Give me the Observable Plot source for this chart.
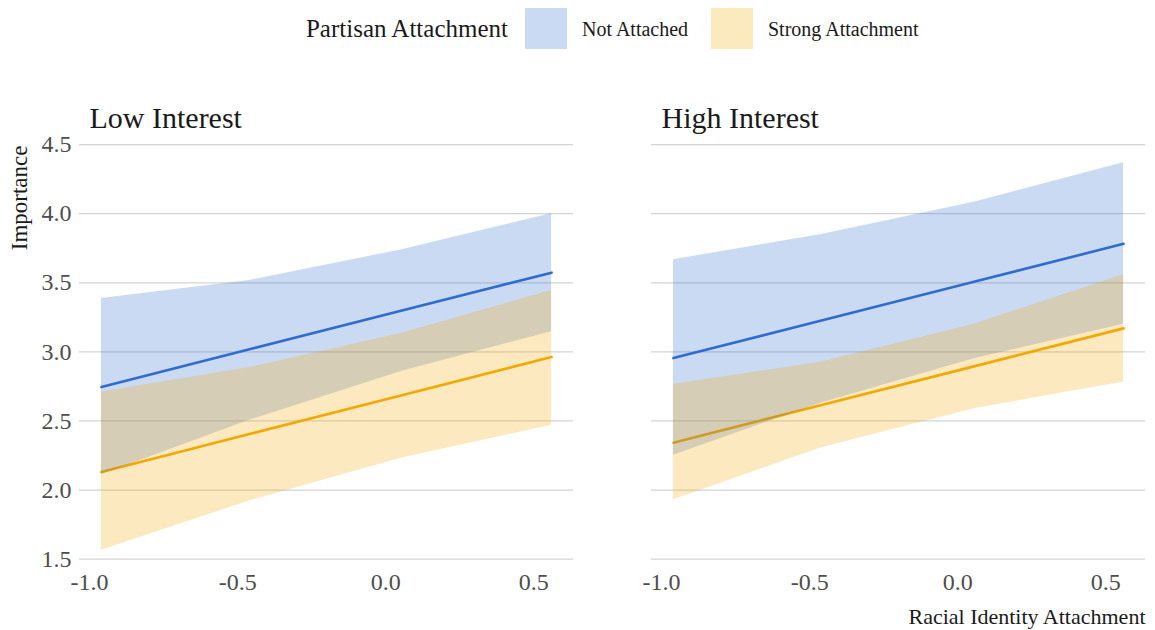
<!DOCTYPE html>
<html>
<head>
<meta charset="utf-8">
<script src="https://cdn.jsdelivr.net/npm/d3@7"></script>
<script src="https://cdn.jsdelivr.net/npm/@observablehq/plot@0.6"></script>
<style>
  html, body { margin: 0; padding: 0; background: #fff; }
  body { width: 1155px; height: 630px; overflow: hidden; font-family: "Liberation Serif", serif; color: #1a1a1a; }
  #legend { position: relative; height: 58px; width: 1155px; }
  #legend .t { position: absolute; top: 29px; transform: translateY(-50%); white-space: nowrap; }
  #legend .sw { position: absolute; top: 8px; width: 42px; height: 41px; }
</style>
</head>
<body>
<div id="legend"></div>
<div id="chart"></div>
<script>
// ---- data ----
const panels = ["Low Interest", "High Interest"];
const groups = ["Not Attached", "Strong Attachment"];
const groupColors = ["#2f6bd0", "#f2a900"];
const xValues = [-0.96, -0.46, 0.055, 0.56];

// Low Interest
const lowNotFit = [2.746, 3.019, 3.300, 3.573];
const lowNotLo  = [2.110, 2.505, 2.859, 3.146];
const lowNotHi  = [3.387, 3.517, 3.739, 4.000];
const lowStrFit = [2.131, 2.405, 2.686, 2.963];
const lowStrLo  = [1.565, 1.921, 2.232, 2.469];
const lowStrHi  = [2.710, 2.886, 3.134, 3.445];
// High Interest
const highNotFit = [2.955, 3.227, 3.507, 3.782];
const highNotLo  = [2.252, 2.630, 2.950, 3.200];
const highNotHi  = [3.667, 3.850, 4.083, 4.368];
const highStrFit = [2.343, 2.615, 2.895, 3.170];
const highStrLo  = [1.930, 2.307, 2.589, 2.782];
const highStrHi  = [2.765, 2.926, 3.199, 3.558];

const xTicks = [-1.0, -0.5, 0.0, 0.5];
const yTicks = [1.5, 2.0, 2.5, 3.0, 3.5, 4.0, 4.5];
const xTitle = "Racial Identity Attachment";
const yTitle = "Importance";
const legendTitle = "Partisan Attachment";

// ---- build table ----
const series = [
  [panels[0], groups[0], lowNotFit, lowNotLo, lowNotHi],
  [panels[0], groups[1], lowStrFit, lowStrLo, lowStrHi],
  [panels[1], groups[0], highNotFit, highNotLo, highNotHi],
  [panels[1], groups[1], highStrFit, highStrLo, highStrHi]
];
const rows = [];
for (const [panel, group, fit, lo, hi] of series) {
  xValues.forEach((x, i) => rows.push({panel, group, x, fit: fit[i], lo: lo[i], hi: hi[i]}));
}

// ---- legend ----
const legend = document.getElementById("legend");
function addEl(cls, styles, text) {
  const el = document.createElement("div");
  el.className = cls;
  Object.assign(el.style, styles);
  if (text) el.textContent = text;
  legend.appendChild(el);
}
addEl("t", {right: (1155 - 508) + "px", fontSize: "25px"}, legendTitle);
const blend = (hex) => { const c = d3.rgb(hex); const a = 0.25; return d3.rgb(255 - a*(255-c.r), 255 - a*(255-c.g), 255 - a*(255-c.b)).formatHex(); };
addEl("sw", {left: "525px", background: blend(groupColors[0])});
addEl("t", {left: "582px", fontSize: "20px"}, groups[0]);
addEl("sw", {left: "711px", background: blend(groupColors[1])});
addEl("t", {left: "768px", fontSize: "20px"}, groups[1]);

// ---- plot ----
const chart = Plot.plot({
  width: 1155,
  height: 572,
  marginLeft: 78,
  marginRight: 9,
  marginTop: 85,
  marginBottom: 61,
  style: {fontFamily: "Liberation Serif", background: "white", overflow: "visible"},
  fx: {domain: panels, paddingInner: 0.136, paddingOuter: 0, axis: null, label: null},
  x: {domain: [-1.034, 0.634], axis: null},
  y: {domain: [1.425, 4.508], axis: null},
  color: {domain: groups, range: groupColors},
  marks: [
    Plot.gridY(yTicks, {stroke: "#d4d4d4", strokeOpacity: 1, strokeWidth: 1.3}),
    Plot.axisY(yTicks, {anchor: "left", tickSize: 0, tickPadding: 8, fontSize: 24, fill: "#4d4d4d", label: null, tickFormat: d => d.toFixed(1)}),
    Plot.axisX(xTicks, {anchor: "bottom", tickSize: 0, tickPadding: 3, fontSize: 24, fill: "#4d4d4d", label: null, tickFormat: d => d.toFixed(1)}),
    Plot.line(rows, {fx: "panel", x: "x", y: "fit", z: "group", stroke: "group", strokeWidth: 2.6}),
    Plot.areaY(rows, {fx: "panel", x: "x", y1: "lo", y2: "hi", z: "group", fill: "group", fillOpacity: 0.25}),
    Plot.text(panels, {fx: d => d, text: d => d, frameAnchor: "top-left", textAnchor: "start", lineAnchor: "bottom", dx: 10, dy: -16, fontSize: 30, fill: "#1a1a1a"}),
    Plot.text([yTitle], {fx: [panels[0]], text: d => d, frameAnchor: "top-left", rotate: -90, textAnchor: "end", lineAnchor: "middle", dx: -60, dy: 2, fontSize: 23, fill: "#1a1a1a"}),
    Plot.text([xTitle], {fx: [panels[1]], text: d => d, frameAnchor: "bottom-right", textAnchor: "end", lineAnchor: "middle", dy: 47, fontSize: 22, fill: "#1a1a1a"})
  ]
});
document.getElementById("chart").appendChild(chart);
</script>
</body>
</html>
